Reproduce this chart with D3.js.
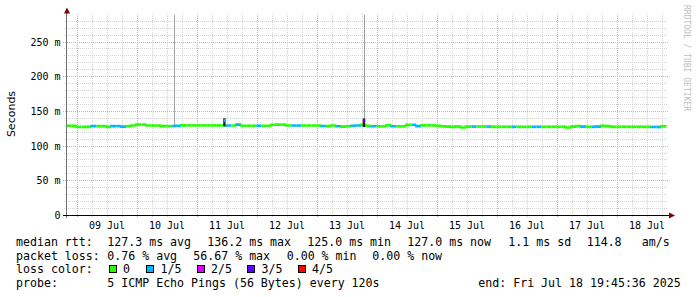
<!DOCTYPE html>
<html>
<head>
<meta charset="utf-8">
<script src="https://cdn.jsdelivr.net/npm/d3@7"></script>
<style>
  body { margin: 0; background: #fff; }
  text { font-family: "DejaVu Sans Mono", monospace; fill: #000; }
</style>
</head>
<body>
<div id="chart"></div>
<script>
// time window of the graph (10 days ending at "end:")
const endTime = new Date(Date.UTC(2025, 6, 18, 19, 45, 36));
const startTime = new Date(endTime.getTime() - 10 * 864e5);
const binHours = 2;

// median rtt (ms), one value per 2 hour bin
const medianRtt = [
  128.6, 128.6, 126.7, 126.7, 127.0, 128.1, 128.1, 128.1, 127.0, 128.1,
  128.1, 127.4, 127.8, 128.9, 130.3, 130.3, 128.9, 128.9, 128.9, 128.1,
  128.1, 128.1, 128.4, 129.1, 129.1, 129.1, 129.1, 129.1, 129.1, 129.1,
  129.1, 129.1, 128.9, 128.9, 130.3, 128.6, 128.6, 128.6, 128.6, 128.6,
  128.6, 130.0, 130.3, 130.3, 128.9, 128.9, 128.9, 128.9, 128.9, 128.9,
  128.9, 128.3, 128.1, 128.9, 127.8, 127.4, 127.8, 128.6, 128.9, 129.9,
  128.4, 127.8, 127.8, 127.8, 129.1, 127.8, 127.8, 127.8, 129.9, 129.9,
  128.1, 129.1, 129.1, 129.1, 128.6, 127.8, 127.4, 127.0, 127.4, 126.0,
  127.4, 127.4, 127.4, 127.4, 127.4, 127.0, 127.0, 127.0, 127.0, 127.0,
  127.0, 127.0, 127.0, 127.0, 127.0, 127.0, 127.0, 127.0, 127.0, 127.0,
  126.0, 127.4, 128.1, 127.4, 127.0, 127.0, 127.4, 128.6, 128.1, 127.0,
  127.0, 127.0, 127.0, 127.0, 127.0, 127.0, 127.0, 126.7, 126.7, 127.7
];
// lost pings out of 5, per bin
const lossCount = [
  0, 0, 0, 0, 0, 1, 0, 0, 0, 1,
  1, 1, 0, 0, 0, 0, 0, 0, 0, 0,
  0, 1, 1, 0, 0, 0, 0, 0, 0, 0,
  0, 0, 1, 0, 1, 0, 0, 0, 1, 0,
  0, 0, 0, 0, 0, 1, 1, 0, 0, 0,
  0, 1, 0, 0, 1, 0, 0, 1, 1, 0,
  0, 1, 0, 0, 0, 1, 0, 0, 0, 1,
  1, 0, 0, 0, 0, 0, 0, 0, 0, 0,
  0, 1, 0, 0, 1, 0, 0, 0, 0, 1,
  0, 0, 0, 1, 1, 0, 0, 0, 0, 0,
  0, 0, 0, 1, 0, 1, 1, 0, 0, 0,
  0, 0, 0, 0, 0, 0, 0, 1, 1, 0
];

// short samples with ping spread (hours after start)
const spikeHour = [43.2, 63.2, 119.0];
const spikeMin = [null, 127.8, 126.6];
const spikeMax = [null, 139.4, 139.4];
const spikeMedian = [null, 136.0, 136.2];
const spikeLoss = [null, 1, 3];
const spikeOutlier = [300, null, 300];

const lossLabels = ['0', '1/5', '2/5', '3/5', '4/5'];
const lossColors = ['#26ff00', '#00b8ff', '#dd00ff', '#5e00ff', '#ff0000'];

const yTicks = [0, 50, 100, 150, 200, 250];
const rttStats = ['127.3 ms avg', '136.2 ms max', '125.0 ms min', '127.0 ms now', '1.1 ms sd', '114.8', 'am/s'];
const lossStats = ['0.76 % avg', '56.67 % max', '0.00 % min', '0.00 % now'];
const probeText = '5 ICMP Echo Pings (56 Bytes) every 120s';
const endText = 'end: Fri Jul 18 19:45:36 2025';

const W = 697, H = 297;
const plotLeft = 66.4, plotRight = 666.4, plotTop = 15, plotBottom = 215;

const svg = d3.select('#chart').append('svg')
  .attr('width', W).attr('height', H)
  .style('display', 'block');

svg.append('rect').attr('width', W).attr('height', H).attr('fill', '#fff');

const x = d3.scaleUtc().domain([startTime, endTime]).range([plotLeft, plotRight]);
const y = d3.scaleLinear().domain([0, 288.2]).range([plotBottom, plotTop]);

const grid = svg.append('g').attr('shape-rendering', 'crispEdges');
const snap = v => Math.round(v) + 0.5;

// minor horizontal grid
d3.range(10, 290, 10).filter(v => v % 50 !== 0).forEach(v => {
  grid.append('line')
    .attr('x1', 64).attr('x2', 668)
    .attr('y1', snap(y(v))).attr('y2', snap(y(v)))
    .attr('stroke', '#d4d4d4').attr('stroke-dasharray', '1,1');
});
// minor vertical grid every 6h
d3.utcHour.every(6).range(startTime, endTime).filter(d => d.getUTCHours() !== 0).forEach(d => {
  grid.append('line')
    .attr('x1', snap(x(d))).attr('x2', snap(x(d)))
    .attr('y1', 14).attr('y2', 217)
    .attr('stroke', '#d4d4d4').attr('stroke-dasharray', '1,1');
});
// major grid
yTicks.filter(v => v > 0).forEach(v => {
  grid.append('line')
    .attr('x1', 63).attr('x2', 668)
    .attr('y1', snap(y(v))).attr('y2', snap(y(v)))
    .attr('stroke', '#eba3a3').attr('stroke-dasharray', '1,1');
});
d3.utcDay.range(startTime, endTime).forEach(d => {
  grid.append('line')
    .attr('x1', snap(x(d))).attr('x2', snap(x(d)))
    .attr('y1', 14).attr('y2', 218)
    .attr('stroke', '#eba3a3').attr('stroke-dasharray', '1,1');
});

// spikes: light outliers first
const spikes = spikeHour.map((h, i) => ({
  t: new Date(startTime.getTime() + h * 36e5),
  lo: spikeMin[i], hi: spikeMax[i], med: spikeMedian[i], loss: spikeLoss[i], out: spikeOutlier[i]
}));

const data = svg.append('g');
spikes.filter(s => s.out != null).forEach(s => {
  data.append('rect')
    .attr('x', Math.round(x(s.t)))
    .attr('width', 1)
    .attr('y', plotTop)
    .attr('height', y(s.hi || 129) - plotTop)
    .attr('fill', '#a0a0a0');
});

// median line, coloured by loss
const bins = medianRtt.map((v, i) => ({
  t0: new Date(startTime.getTime() + i * binHours * 36e5),
  t1: new Date(startTime.getTime() + (i + 1) * binHours * 36e5),
  v, prev: i > 0 ? medianRtt[i - 1] : v, loss: lossCount[i]
}));
data.selectAll('path.med')
  .data(bins)
  .join('path')
  .attr('class', 'med')
  .attr('d', b => `M${x(b.t0)},${y(b.prev)}V${y(b.v)}H${x(b.t1)}`)
  .attr('fill', 'none')
  .attr('stroke', b => lossColors[b.loss])
  .attr('stroke-width', 2.6);

// dense smoke + sample medians
spikes.filter(s => s.lo != null).forEach(s => {
  data.append('rect')
    .attr('x', x(s.t) - 1.2).attr('width', 2.4)
    .attr('y', y(s.hi)).attr('height', y(s.lo) - y(s.hi))
    .attr('fill', '#262626');
  data.append('rect')
    .attr('x', x(s.t) - 0.6).attr('width', 2)
    .attr('y', y(s.med) - 1.5).attr('height', 3)
    .attr('fill', lossColors[s.loss]);
});

// axes
const axis = svg.append('g').attr('shape-rendering', 'crispEdges');
axis.append('line').attr('x1', 66.5).attr('x2', 66.5).attr('y1', 12).attr('y2', 218)
  .attr('stroke', '#707070');
axis.append('line').attr('x1', 63).attr('x2', 670).attr('y1', 215.5).attr('y2', 215.5)
  .attr('stroke', '#000');
svg.append('path').attr('d', 'M64,13.5L67,7.5L70,13.5Z').attr('fill', '#7f0000');
svg.append('path').attr('d', 'M669,212.5L675,215.5L669,218.5Z').attr('fill', '#7f0000');

// y tick labels
svg.append('g').selectAll('text')
  .data(yTicks)
  .join('text')
  .attr('x', 60.5)
  .attr('y', d => y(d) + 4)
  .attr('text-anchor', 'end')
  .attr('font-size', 10)
  .text(d => d === 0 ? '0' : `${d} m`);

// x tick labels at noon
const fmt = d3.utcFormat('%d %b');
svg.append('g').selectAll('text')
  .data(d3.utcDay.range(startTime, endTime).map(d => d3.utcHour.offset(d, 12)).filter(d => d < endTime))
  .join('text')
  .attr('x', d => x(d))
  .attr('y', 228.5)
  .attr('text-anchor', 'middle')
  .attr('font-size', 10)
  .text(d => fmt(d));

// axis title
svg.append('text')
  .attr('transform', 'translate(15,114) rotate(-90)')
  .attr('text-anchor', 'middle')
  .style('font-family', '"DejaVu Sans", sans-serif')
  .attr('font-size', 11)
  .text('Seconds');

// watermark
svg.append('text')
  .attr('transform', 'translate(683.5,5) rotate(90)')
  .attr('font-size', 8)
  .style('fill', '#bdbdbd')
  .text('RRDTOOL / TOBI OETIKER');

// legend
const lg = svg.append('g').attr('font-size', 11.6).attr('xml:space', 'preserve');
const row = [246, 259.5, 273, 286.5];
const lx = 16;
lg.append('text').attr('x', lx).attr('y', row[0]).text('median rtt:');
const rttX = [107.3, 207.3, 307.3, 407.3, 508.3, 586.7, 641.7];
rttStats.forEach((s, i) => lg.append('text').attr('x', rttX[i]).attr('y', row[0]).text(s));

lg.append('text').attr('x', lx).attr('y', row[1]).text('packet loss:');
const lossX = [107.3, 193.3, 286.7, 372.3];
lossStats.forEach((s, i) => lg.append('text').attr('x', lossX[i]).attr('y', row[1]).text(s));

lg.append('text').attr('x', lx).attr('y', row[2]).text('loss color:');
const boxX = [108.5, 146, 196.5, 247, 297.5];
lossLabels.forEach((s, i) => {
  lg.append('rect').attr('x', boxX[i] + 0.5).attr('y', 265.5).attr('width', 7).attr('height', 7)
    .attr('fill', lossColors[i]).attr('stroke', '#000').attr('stroke-width', 1)
    .attr('shape-rendering', 'crispEdges');
  lg.append('text').attr('x', boxX[i] + 14.5).attr('y', row[2]).text(s);
});

lg.append('text').attr('x', lx).attr('y', row[3]).text('probe:');
lg.append('text').attr('x', 107.3).attr('y', row[3]).text(probeText);
lg.append('text').attr('x', 478.3).attr('y', row[3]).text(endText);
</script>
</body>
</html>
